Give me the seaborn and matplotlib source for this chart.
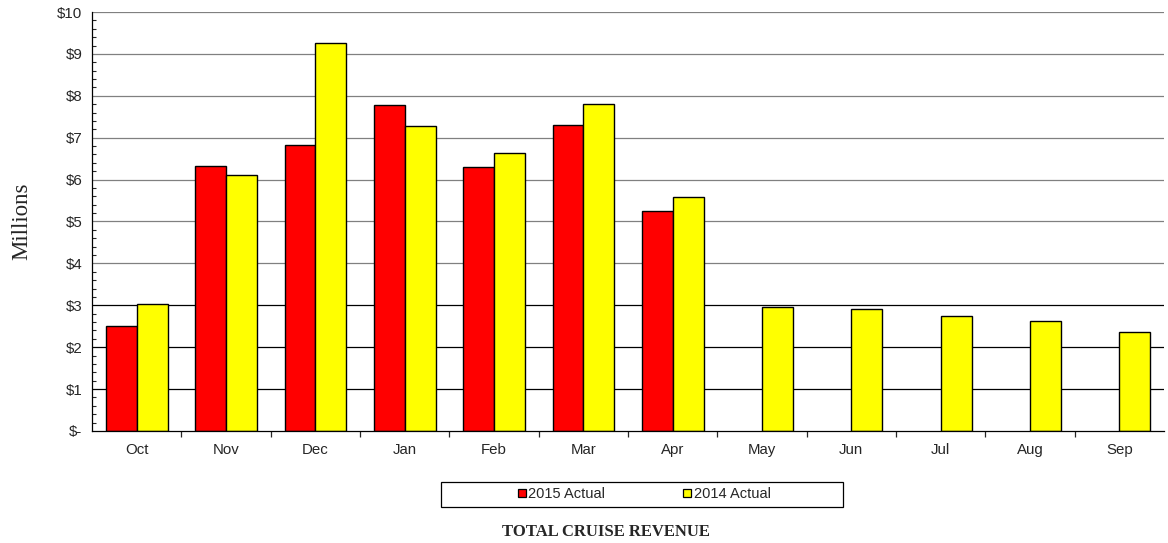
import numpy as np
import pandas as pd
import seaborn as sns
from matplotlib import pyplot as plt
from matplotlib.lines import Line2D
from matplotlib.patches import Rectangle
from matplotlib.ticker import FixedLocator, MultipleLocator

months = ["Oct", "Nov", "Dec", "Jan", "Feb", "Mar", "Apr", "May", "Jun", "Jul", "Aug", "Sep"]
actual_2015 = [2.51, 6.33, 6.83, 7.79, 6.29, 7.30, 5.24, np.nan, np.nan, np.nan, np.nan, np.nan]
actual_2014 = [3.02, 6.10, 9.26, 7.29, 6.64, 7.80, 5.59, 2.97, 2.91, 2.75, 2.63, 2.37]
series_names = ["2015 Actual", "2014 Actual"]
series_colors = ["#ff0000", "#ffff00"]
y_ticks = list(range(0, 11))
y_labels = ["$-"] + [f"${v}" for v in range(1, 11)]

df = pd.DataFrame(
    {
        "month": months * 2,
        "revenue": actual_2015 + actual_2014,
        "series": [series_names[0]] * len(months) + [series_names[1]] * len(months),
    }
)

sns.set_style("white")
plt.rcParams["font.family"] = ["Liberation Sans", "DejaVu Sans"]

fig = plt.figure(figsize=(11.68, 5.43), dpi=100)
ax = fig.add_axes([0.0788, 0.2063, 0.9178, 0.7716])

# gridlines: lower ones black, upper ones gray (as in the source)
for v in y_ticks[1:]:
    ax.axhline(v, color="black" if v <= 3 else "#808080", linewidth=0.9, zorder=0)

sns.barplot(
    ax=ax,
    data=df,
    x="month",
    y="revenue",
    hue="series",
    order=months,
    hue_order=series_names,
    palette=dict(zip(series_names, series_colors)),
    width=0.69,
    gap=0,
    dodge=True,
    edgecolor="black",
    linewidth=1,
    saturation=1,
    legend=False,
    errorbar=None,
    zorder=2,
)

ax.set_xlim(-0.5, len(months) - 0.5)
ax.set_ylim(0, 10)
ax.set_yticks(y_ticks)
ax.set_yticklabels(y_labels)
ax.yaxis.set_minor_locator(MultipleLocator(0.2))
ax.tick_params(axis="y", which="major", direction="out", length=4, width=0.9, labelsize=10.8, pad=3)
ax.tick_params(axis="y", which="minor", direction="in", length=3, width=0.8, left=True)

ax.xaxis.set_minor_locator(FixedLocator(np.arange(0.5, len(months) - 0.5, 1)))
ax.tick_params(axis="x", which="major", length=0, labelsize=10.8, pad=9)
ax.tick_params(axis="x", which="minor", direction="out", length=4, width=0.9, bottom=True)

for s in ["top", "right"]:
    ax.spines[s].set_visible(False)
for s in ["left", "bottom"]:
    ax.spines[s].set_color("black")
    ax.spines[s].set_linewidth(0.9)

ax.set_xlabel("")
ax.set_ylabel("Millions", family=["Liberation Serif", "DejaVu Serif"], fontsize=16.5, labelpad=18)

# legend box
fig.patches.append(
    Rectangle((440.5 / 1168, 1 - 506.5 / 543), 402.5 / 1168, 24.5 / 543,
              transform=fig.transFigure, facecolor="white", edgecolor="black", linewidth=0.9)
)
handles = [
    Line2D([], [], marker="s", linestyle="", markersize=6, markerfacecolor=c, markeredgecolor="black", markeredgewidth=0.9)
    for c in series_colors
]
fig.legend(
    handles, series_names, loc="center", bbox_to_anchor=(644 / 1168, 1 - 494.5 / 543),
    ncol=2, frameon=False, fontsize=10.5, handlelength=0.6, handletextpad=0.15, columnspacing=5.3,
    borderpad=0,
)

fig.text(606 / 1168, 1 - 532 / 543, "TOTAL CRUISE REVENUE", ha="center", va="center",
         family=["Liberation Serif", "DejaVu Serif"], fontweight="bold", fontsize=12)

fig.savefig("out.png", dpi=100)
